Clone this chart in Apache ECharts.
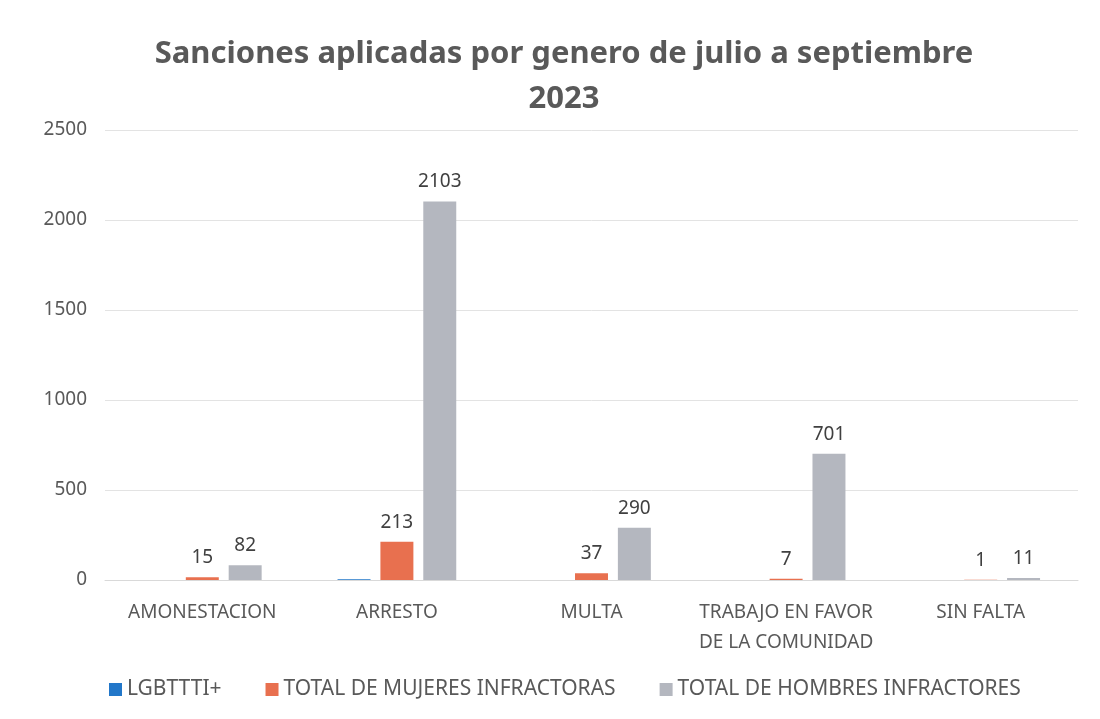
<!DOCTYPE html>
<html>
<head>
<meta charset="utf-8">
<script src="https://cdn.jsdelivr.net/npm/echarts@6/dist/echarts.min.js"></script>
<style>
  html, body { margin: 0; padding: 0; background: #fff; }
  #chart { width: 1100px; height: 719px; }
</style>
</head>
<body>
<div id="chart"></div>
<script>
const categories = ["AMONESTACION", "ARRESTO", "MULTA", "TRABAJO EN FAVOR\nDE LA COMUNIDAD", "SIN FALTA"];
const seriesNames = ["LGBTTTI+", "TOTAL DE MUJERES INFRACTORAS", "TOTAL DE HOMBRES INFRACTORES"];
const lgbtValues = [0, 4, 0, 0, 0];
const mujeresValues = [15, 213, 37, 7, 1];
const hombresValues = [82, 2103, 290, 701, 11];
const colors = ["#2277c9", "#e8704f", "#b4b7bf"];

const fontFamily = "'Noto Sans', 'Open Sans', sans-serif";

const chart = echarts.init(document.getElementById("chart"));

const dataLabel = {
  show: true,
  position: "top",
  distance: 10,
  color: "#404040",
  fontSize: 19,
  fontFamily,
};

chart.setOption({
  animation: false,
  backgroundColor: "#fff",
  color: colors,
  title: {
    text: "Sanciones aplicadas por genero de julio a septiembre\n2023",
    left: 559,
    textAlign: "center",
    top: 27,
    textStyle: {
      fontSize: 31,
      fontWeight: "bold",
      color: "#595959",
      fontFamily,
      lineHeight: 45,
    },
  },
  legend: {
    data: seriesNames,
    left: 104,
    top: 674,
    itemWidth: 13,
    itemHeight: 13,
    itemGap: 44,
    icon: "rect",
    textStyle: { fontSize: 21, color: "#595959", fontFamily },
  },
  grid: { left: 105, right: 22, top: 130, bottom: 139 },
  xAxis: {
    type: "category",
    data: categories,
    axisLine: { lineStyle: { color: "#d9d9d9" } },
    axisTick: { show: false },
    axisLabel: {
      interval: 0,
      margin: 18,
      fontSize: 19,
      lineHeight: 30,
      color: "#595959",
      fontFamily,
      verticalAlign: "top",
    },
  },
  yAxis: {
    type: "value",
    min: 0,
    max: 2500,
    interval: 500,
    axisLine: { show: false },
    axisTick: { show: false },
    splitLine: { lineStyle: { color: "#e3e3e3" } },
    axisLabel: {
      fontSize: 19,
      color: "#595959",
      fontFamily,
      margin: 18,
      formatter: (v) => String(v),
    },
  },
  series: [
    {
      name: seriesNames[0],
      type: "bar",
      data: lgbtValues,
      barGap: "30%",
      barCategoryGap: "39%",
      label: { show: false },
    },
    {
      name: seriesNames[1],
      type: "bar",
      data: mujeresValues,
      barGap: "30%",
      barCategoryGap: "39%",
      label: dataLabel,
    },
    {
      name: seriesNames[2],
      type: "bar",
      data: hombresValues,
      barGap: "30%",
      barCategoryGap: "39%",
      label: dataLabel,
    },
  ],
});
</script>
</body>
</html>
